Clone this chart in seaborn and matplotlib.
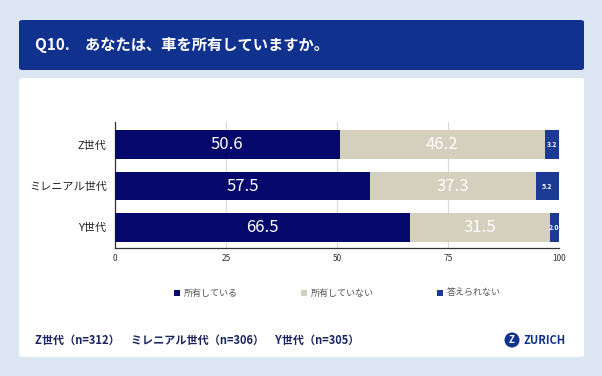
import matplotlib
matplotlib.use("Agg")
import matplotlib.pyplot as plt
from matplotlib.patches import FancyBboxPatch, Ellipse, Rectangle
import seaborn as sns
import pandas as pd
import numpy as np

categories = ["Z世代", "ミレニアル世代", "Y世代"]
owned = [50.6, 57.5, 66.5]
not_owned = [46.2, 37.3, 31.5]
no_answer = [3.2, 5.2, 2.0]
series_names = ["所有している", "所有していない", "答えられない"]
xticks = [0, 25, 50, 75, 100]

NAVY = "#06096b"
BEIGE = "#d5cfbe"
BLUE = "#1a3a94"
BG = "#dce6f2"
TITLE_BG = "#11318f"

sns.set_theme(style="white")
plt.rcParams['font.family'] = ['Noto Sans CJK JP', 'DejaVu Sans']

W, H = 602, 376
fig = plt.figure(figsize=(W / 100, H / 100), dpi=100)
fig.patch.set_facecolor(BG)

def fx(x): return x / W
def fy(y): return 1 - y / H

# title box
fig.patches.append(FancyBboxPatch((fx(19), fy(70)), fx(584) - fx(19), fy(20) - fy(70),
                                  boxstyle="round,pad=0,rounding_size=0.006",
                                  transform=fig.transFigure, facecolor=TITLE_BG,
                                  edgecolor="none", zorder=-5))
fig.text(fx(35), fy(45), "Q10.　あなたは、車を所有していますか。", color="white",
         fontsize=11, fontweight="bold", va="center", ha="left")
# white panel
fig.patches.append(FancyBboxPatch((fx(19), fy(357)), fx(584) - fx(19), fy(78) - fy(357),
                                  boxstyle="round,pad=0,rounding_size=0.006",
                                  transform=fig.transFigure, facecolor="white",
                                  edgecolor="none", zorder=-5))

df = pd.DataFrame({"cat": categories, "owned": owned, "not": not_owned, "na": no_answer})
df["c2"] = df["owned"] + df["not"]
df["c3"] = df["c2"] + df["na"]

ax = fig.add_axes([fx(115), fy(248), fx(559) - fx(115), fy(122) - fy(248)])
ax.set_zorder(5)
ax.set_facecolor("none")
for col, c in [("c3", BLUE), ("c2", BEIGE), ("owned", NAVY)]:
    sns.barplot(data=df, y="cat", x=col, color=c, orient="h", width=0.7, ax=ax,
                saturation=1, zorder=3, linewidth=0, edgecolor="none")

for i in range(len(categories)):
    ax.text(owned[i] / 2, i, f"{owned[i]:.1f}", color="white", fontsize=12,
            ha="center", va="center", zorder=5)
    ax.text(owned[i] + not_owned[i] / 2, i, f"{not_owned[i]:.1f}", color="white",
            fontsize=12, ha="center", va="center", zorder=5)
    ax.text(owned[i] + not_owned[i] + no_answer[i] / 2, i, f"{no_answer[i]:.1f}",
            color="white", fontsize=5, ha="center", va="center", zorder=5,
            fontweight="bold")

ax.set_xlim(0, 100)
ax.set_ylim(2.5, -0.55)
ax.set_xticks(xticks)
ax.set_xticklabels([str(t) for t in xticks], fontsize=6, color="#333333")
ax.tick_params(axis="y", labelsize=8, labelcolor="#222222", length=0, pad=6)
ax.tick_params(axis="x", length=0, pad=4)
ax.set_xlabel("")
ax.set_ylabel("")
for s in ["top", "right"]:
    ax.spines[s].set_visible(False)
for s in ["left", "bottom"]:
    ax.spines[s].set_color("#333333")
    ax.spines[s].set_linewidth(0.9)
ax.set_axisbelow(True)
ax.xaxis.grid(True, color="#d9d9d9", linewidth=0.8)
ax.yaxis.grid(False)

# legend
colors = [NAVY, BEIGE, BLUE]
lx = [177, 304, 440]
for x, c, n in zip(lx, colors, series_names):
    fig.patches.append(Rectangle((fx(x - 3), fy(296)), 6 / W, 6 / H,
                                 transform=fig.transFigure, facecolor=c, edgecolor="none"))
    fig.text(fx(x + 7), fy(293), n, fontsize=6.5, color="#555555", va="center", ha="left")

# footer
fig.text(fx(35), fy(340), "Z世代（n=312）　ミレニアル世代（n=306）　Y世代（n=305）",
         fontsize=8, fontweight="bold", color="#1a2560", va="center", ha="left")
fig.patches.append(Ellipse((fx(512), fy(340)), 15 / W, 15 / H, transform=fig.transFigure,
                           facecolor=TITLE_BG, edgecolor="none"))
fig.text(fx(512), fy(340), "Z", fontsize=7, fontweight="bold", color="white",
         ha="center", va="center")
fig.text(fx(524), fy(340), "ZURICH", fontsize=8, fontweight="bold", color=TITLE_BG,
         ha="left", va="center")

fig.savefig("out.png", dpi=100, facecolor=BG)
